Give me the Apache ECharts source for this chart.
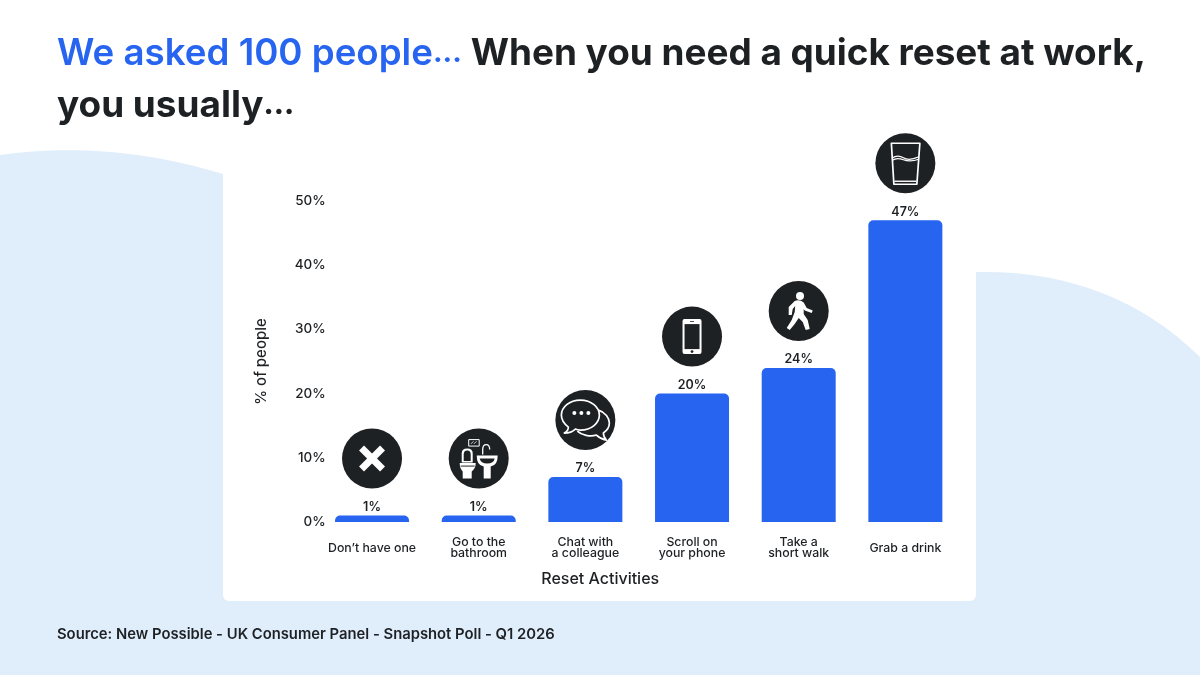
<!DOCTYPE html>
<html><head><meta charset="utf-8">
<style>html,body{margin:0;padding:0;background:#fff}#c{width:1200px;height:675px}</style>
<script src="https://cdn.jsdelivr.net/npm/echarts@6/dist/echarts.min.js"></script>
</head><body><div id="c"></div>
<script>
const categories = ["Don’t have one","Go to the\nbathroom","Chat with\na colleague","Scroll on\nyour phone","Take a\nshort walk","Grab a drink"];
const values = [1,1,7,20,24,47];
const icons = ["cross","toilet","chat","phone","walk","glass"];
const yTicks = [0,10,20,30,40,50];
const titleBlue = "We asked 100 people";
const titleDark1 = " When you need a quick reset at work,";
const titleDark2 = "you usually";
const titleDots = "...";
const sourceText = "Source: New Possible - UK Consumer Panel - Snapshot Poll - Q1 2026";
const xName = "Reset Activities";
const yName = "% of people";

const FONT = '"Inter","Open Sans",sans-serif';
const INK = '#1e2124', BLUE = '#2764f0', PALE = '#e0eefc';

function iconChildren(kind){
  const w = '#ffffff';
  const L = (pts,lw,cap)=>({type:'polyline',shape:{points:pts},style:{stroke:w,fill:null,lineWidth:lw||2,lineCap:cap||'round',lineJoin:'round'}});
  const R = (x,y,wd,h,r)=>({type:'rect',shape:{x,y,width:wd,height:h,r:r||0},style:{fill:w}});
  const C = (x,y,r)=>({type:'circle',shape:{cx:x,cy:y,r},style:{fill:w}});
  const S = (d,lw)=>({type:'path',shape:{pathData:d},style:{fill:null,stroke:w,lineWidth:lw||1.6,lineJoin:'round'}});
  const F = (d,col)=>({type:'path',shape:{pathData:d},style:{fill:col||w}});
  switch(kind){
    case 'cross': return [L([[-10.5,-10.5],[10.5,10.5]],7,'butt'),L([[10.5,-10.5],[-10.5,10.5]],7,'butt')];
    case 'toilet': return [
      {type:'rect',shape:{x:-10,y:-19,width:10.5,height:6.5},style:{fill:null,stroke:w,lineWidth:1}},
      L([[-7.5,-15],[-5.5,-17]],.8),L([[-4.5,-15],[-2.5,-17]],.8),
      F('M-17,-5 Q-17,-10 -11.5,-10 Q-6,-10 -6,-5 L-6,4 L-17,4 Z'),
      F('M-15,2.5 L-15,-4 Q-15,-8 -11.5,-8 Q-8,-8 -8,-4 L-8,2.5 Z',INK),
      F('M-19,4.5 L-3,4.5 Q-3,10 -7,13 L-7,20 L-16,20 L-16,13 Q-19,10 -19,4.5 Z'),
      {type:'rect',shape:{x:-18,y:7,width:14,height:1},style:{fill:INK}},
      F('M-2,-3 L19,-3 Q19,7 12,8 L12,20 L5,20 L5,8 Q-2,7 -2,-3 Z'),
      F('M1,0 L16,0 Q15,5 8.5,5 Q2,5 1,0 Z',INK),
      S('M4,-4 L4,-9 Q4,-14 7.5,-14 Q11,-14 11,-9',1.3)
    ];
    case 'chat': return [
      S('M-5,-20 C-16,-20 -24,-13 -24,-5 C-24,0 -21,4 -17,7 C-17,10 -19,12 -21,13 C-17,13 -12,11 -10,9 C-8,10 -7,10 -5,10 C6,10 14,3 14,-5 C14,-13 6,-20 -5,-20 Z',1.7),
      S('M13,-10 C20,-8 24,-2 24,3 C24,8 21,11 18,13 C18,16 19,18 21,20 C16,19 13,17 11,15 C5,17 -4,15 -8,11',1.7),
      C(-11,-7,2),C(-4,-7,2),C(3,-7,2)
    ];
    case 'phone': return [
      R(-9.5,-17.5,19,35,2),
      {type:'rect',shape:{x:-7.5,y:-12.5,width:15,height:25},style:{fill:INK}},
      {type:'circle',shape:{cx:0,cy:15,r:1.4},style:{fill:INK}},
      {type:'rect',shape:{x:-2,y:-15.5,width:4,height:.8},style:{fill:INK}}
    ];
    case 'walk': return [
      C(1.3,-15,4),
      F('M-4,-10 Q1,-12 5,-8.5 L8,-3 L14,-.5 L13,2 L6,-.5 L5,-2 L5,3 L9,9 L11,18 L7,19 L4,11 L0,7 L-4,13 L-9,19 L-12,17 L-7,9 L-4,1 L-3.5,-5 L-6,-2 L-7,4 L-10,4 L-10,-4 Z')
    ];
    case 'glass': return [
      S('M-14,-20 L14.5,-20 L11.5,21 L-11.5,21 Z',1.7),
      S('M-13.5,-5 C-10,-7.5 -6,-8 -2,-5.5 C2,-3 8,-4 13.5,-6.5 M-13,-3 C-10,-5 -6,-5 -2,-3.5 C2,-2 8,-2 13.3,-4',1.2),
      L([[-11,18],[11,18]],1.4,'butt')
    ];
  }
  return [];
}

const chart = echarts.init(document.getElementById('c'),null,{renderer:'canvas'});
chart.setOption({
  animation:false,
  backgroundColor:'#ffffff',
  textStyle:{fontFamily:FONT},
  graphic:[
    {type:'text',left:57,top:35,z:5,style:{text:`{b|${titleBlue}}{bd|${titleDots}}{d|${titleDark1}}\n{d|${titleDark2}}{dd|${titleDots}}`,rich:{
      b:{fill:BLUE,fontSize:36.7,fontWeight:600,fontFamily:FONT,lineHeight:52},
      bd:{fill:BLUE,fontSize:29,fontWeight:700,fontFamily:FONT,lineHeight:52},
      d:{fill:INK,fontSize:36.9,fontWeight:700,fontFamily:FONT,lineHeight:52},
      dd:{fill:INK,fontSize:29,fontWeight:800,fontFamily:FONT,lineHeight:52}}}},
    {type:'text',left:57,top:627,z:5,style:{text:sourceText,fill:INK,fontSize:14.8,fontWeight:600,fontFamily:FONT}}
  ],
  grid:{left:318.7,top:201,width:640,height:321,containLabel:false},
  xAxis:{type:'category',data:categories,name:xName,nameLocation:'middle',nameGap:49,
    nameTextStyle:{color:INK,fontSize:16,fontWeight:500,fontFamily:FONT,padding:[0,77,0,0]},
    axisLine:{show:false},axisTick:{show:false},
    axisLabel:{color:INK,fontSize:12.3,fontWeight:500,fontFamily:FONT,lineHeight:11.5,margin:26,verticalAlign:'middle',interval:0}},
  yAxis:{type:'value',min:0,max:50,interval:10,name:yName,nameLocation:'middle',nameGap:50,nameRotate:90,
    nameTextStyle:{color:INK,fontSize:15,fontWeight:500,fontFamily:FONT},
    splitLine:{show:false},axisLine:{show:false},axisTick:{show:false},
    axisLabel:{color:INK,fontSize:13.5,fontWeight:500,fontFamily:FONT,margin:-7,padding:[2,0,0,0],
      formatter:v=>yTicks.includes(v)?v+'%':''}},
  series:[
    {type:'custom',coordinateSystem:'none',data:[0],z:0,silent:true,clip:false,
      renderItem:()=>({type:'group',children:[
        {type:'path',shape:{pathData:'M0,155 C60,146 140,148 223,174 L223,675 L0,675 Z'},style:{fill:PALE}},
        {type:'path',shape:{pathData:'M976,272 C1065,270 1140,298 1200,357 L1200,675 L976,675 Z'},style:{fill:PALE}},
        {type:'rect',shape:{x:220,y:595,width:760,height:80},style:{fill:PALE}},
        {type:'rect',shape:{x:223,y:170,width:753,height:431,r:[0,0,6,6]},style:{fill:'#ffffff'}}
      ]})},
    {type:'bar',data:values,barWidth:74,z:2,itemStyle:{color:BLUE,borderRadius:[5,5,0,0]},
      label:{show:true,position:'top',distance:2,formatter:'{c}%',color:INK,fontSize:12.5,fontWeight:600,fontFamily:FONT}},
    {type:'custom',data:values.map((v,i)=>[i,v]),z:4,silent:true,clip:false,
      renderItem:(p,api)=>{
        const pt=api.coord([api.value(0),api.value(1)]);
        return {type:'group',x:pt[0],y:pt[1]-57,children:[
          {type:'circle',shape:{cx:0,cy:0,r:30},style:{fill:INK}},
          ...iconChildren(icons[p.dataIndex])
        ]};
      },
      encode:{x:0,y:1}}
  ]
});
</script></body></html>
